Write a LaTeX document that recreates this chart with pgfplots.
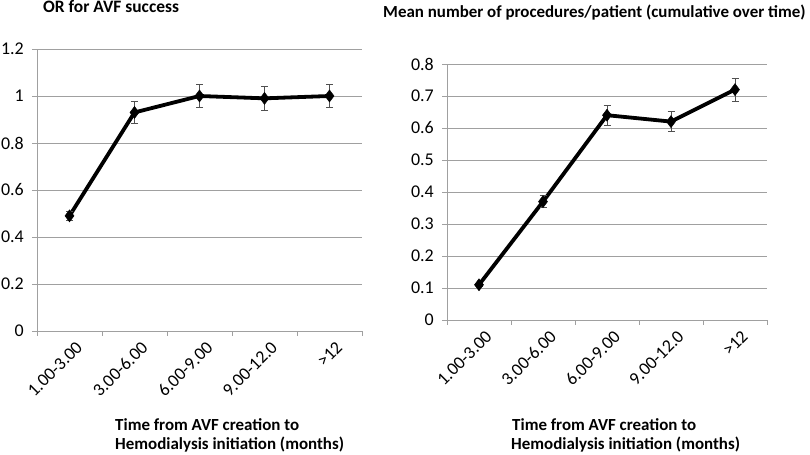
\documentclass[border=0pt]{standalone}
\usepackage{fontspec}
\setmainfont{Carlito}
\usepackage{pgfplots}
\pgfplotsset{compat=1.18}
\definecolor{gridgray}{RGB}{160,160,160}
\definecolor{errgray}{RGB}{80,80,80}
\begin{document}
\begin{tikzpicture}
\useasboundingbox (0,0) rectangle (810bp,455bp);
\pgfplotsset{
  excel/.style={
    scale only axis,
    axis lines*=left,
    axis line style={draw=gridgray, line width=0.9bp},
    ymajorgrids,
    grid style={draw=gridgray, line width=0.9bp},
    tick align=outside,
    major tick length=5bp,
    ytick style={draw=gridgray, line width=0.9bp},
    xmin=-0.5, xmax=4.5,
    xtick={0,...,4},
    xticklabels={1.00-3.00,3.00-6.00,6.00-9.00,9.00-12.0,{>12}},
    xtick style={draw=none},
    extra x ticks={-0.5,0.5,1.5,2.5,3.5,4.5},
    extra x tick labels={},
    extra x tick style={grid=none, xtick style={draw=gridgray, line width=0.9bp}},
    ticklabel style={font=\fontsize{18}{21}\selectfont},
    /pgf/number format/assume math mode=true,
    xticklabel style={rotate=45, anchor=north east, inner sep=1bp, yshift=-6bp, xshift=2bp},
    yticklabel style={inner sep=2bp, xshift=-6bp},
    clip=false,
  },
  dataline/.style={
    black, line width=3.8bp, mark=diamond*, mark size=6bp,
    mark options={solid, line width=0.5bp},
    error bars/.cd, y dir=both, y explicit,
    error bar style={draw=errgray, line width=0.7bp},
    error mark options={rotate=90, mark size=3.5bp, draw=errgray, line width=0.7bp},
  },
}
\begin{axis}[excel,
  at={(37bp,124bp)}, anchor=south west,
  width=325bp, height=282bp,
  ymin=0, ymax=1.2,
  ytick={0,0.2,...,1.2},
  yticklabels={0,0.2,0.4,0.6,0.8,1,1.2},
]
\addplot[dataline] coordinates {
  (0,0.49) +- (0,0.02)
  (1,0.93) +- (0,0.047)
  (2,1.00) +- (0,0.05)
  (3,0.99) +- (0,0.05)
  (4,1.00) +- (0,0.05)
};
\end{axis}
\begin{axis}[excel,
  at={(447bp,135bp)}, anchor=south west,
  width=320bp, height=256bp,
  ymin=0, ymax=0.8,
  ytick={0,0.1,...,0.8},
  yticklabels={0,0.1,0.2,0.3,0.4,0.5,0.6,0.7,0.8},
]
\addplot[dataline] coordinates {
  (0,0.11) +- (0,0.005)
  (1,0.37) +- (0,0.018)
  (2,0.64) +- (0,0.031)
  (3,0.62) +- (0,0.031)
  (4,0.72) +- (0,0.036)
};
\end{axis}
\node[anchor=base west, inner sep=0pt, font=\fontsize{17.5}{20}\selectfont\bfseries] at (43bp,442bp) {OR for AVF success};
\node[anchor=base west, inner sep=0pt, font=\fontsize{17}{20}\selectfont\bfseries] at (383bp,437bp) {Mean number of procedures/patient (cumulative over time)};
\node[anchor=base west, inner sep=0pt, font=\fontsize{17}{20}\selectfont\bfseries] at (115bp,25bp) {Time from AVF creation to};
\node[anchor=base west, inner sep=0pt, font=\fontsize{17}{20}\selectfont\bfseries] at (115bp,6bp) {Hemodialysis initiation (months)};
\node[anchor=base west, inner sep=0pt, font=\fontsize{17}{20}\selectfont\bfseries] at (512bp,25bp) {Time from AVF creation to};
\node[anchor=base west, inner sep=0pt, font=\fontsize{17}{20}\selectfont\bfseries] at (511bp,6bp) {Hemodialysis initiation (months)};
\end{tikzpicture}
\end{document}
